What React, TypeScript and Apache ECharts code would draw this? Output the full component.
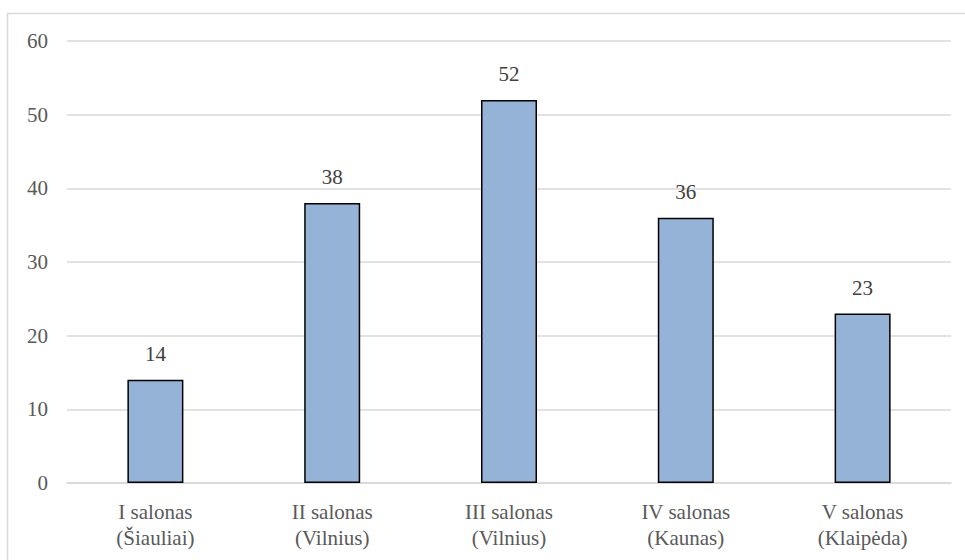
import React, { useEffect, useRef } from "react";
import * as echarts from "echarts";

const categories = [
  "I salonas\n(Šiauliai)",
  "II salonas\n(Vilnius)",
  "III salonas\n(Vilnius)",
  "IV salonas\n(Kaunas)",
  "V salonas\n(Klaipėda)",
];
const values = [14, 38, 52, 36, 23];
const yMin = 0;
const yMax = 60;
const yStep = 10;

const FONT = "Liberation Serif";

const serif = (color: string) => ({
  fontFamily: FONT,
  fontSize: 21,
  lineHeight: 26,
  color,
});

export default function App() {
  const ref = useRef<HTMLDivElement>(null);

  useEffect(() => {
    if (!ref.current) return;
    const chart = echarts.init(ref.current, undefined, { renderer: "svg" });
    chart.setOption({
      animation: false,
      backgroundColor: "#ffffff",
      textStyle: { fontFamily: FONT, fontSize: 21 },
      graphic: [
        {
          type: "rect",
          shape: { x: 7.5, y: 13.5, width: 980, height: 600 },
          style: { fill: "none", stroke: "#d9d9d9", lineWidth: 1.5 },
          silent: true,
          z: -1,
        },
      ],
      grid: { left: 67, right: 14, top: 41, bottom: 77 },
      xAxis: {
        type: "category",
        data: categories,
        axisLine: { show: true, lineStyle: { color: "#d9d9d9", width: 1.5 } },
        axisTick: { show: false },
        axisLabel: {
          ...serif("#595959"),
          margin: 16,
          formatter: (v: string) =>
            v
              .split("\n")
              .map((line) => `{t|${line}}`)
              .join("\n"),
          rich: { t: serif("#595959") },
        },
      },
      yAxis: {
        type: "value",
        min: yMin,
        max: yMax,
        interval: yStep,
        axisLine: { show: false },
        axisTick: { show: false },
        splitLine: { lineStyle: { color: "#d9d9d9", width: 1.5 } },
        axisLabel: {
          ...serif("#595959"),
          margin: 19,
          formatter: (v: number) => `{t|${v}}`,
          rich: { t: serif("#595959") },
        },
      },
      series: [
        {
          type: "bar",
          data: values,
          barWidth: 56,
          itemStyle: {
            color: "#95b3d7",
            borderColor: "#000000",
            borderWidth: 1.5,
          },
          label: {
            show: true,
            position: "top",
            distance: 13,
            ...serif("#404040"),
            formatter: "{t|{c}}",
            rich: { t: serif("#404040") },
          },
        },
      ],
    });
    return () => chart.dispose();
  }, []);

  return (
    <div
      ref={ref}
      style={{ position: "absolute", left: 0, top: 0, width: 965, height: 560 }}
    />
  );
}
